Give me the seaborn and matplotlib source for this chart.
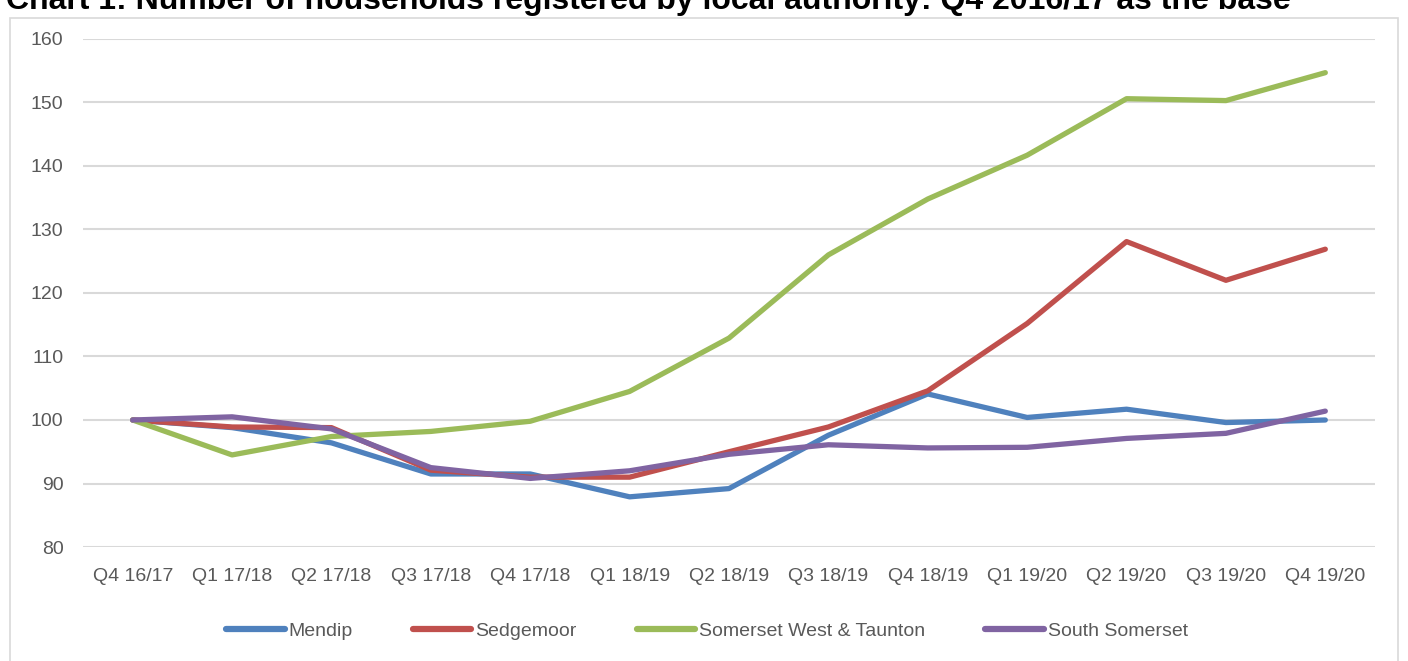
import matplotlib
matplotlib.use("Agg")
import matplotlib.pyplot as plt
import pandas as pd
import seaborn as sns
from matplotlib.patches import Rectangle

# Quarters on the category axis
quarters = [
    "Q4 16/17", "Q1 17/18", "Q2 17/18", "Q3 17/18", "Q4 17/18", "Q1 18/19",
    "Q2 18/19", "Q3 18/19", "Q4 18/19", "Q1 19/20", "Q2 19/20", "Q3 19/20",
    "Q4 19/20",
]

# Index values (Q4 2016/17 = 100)
mendip = [100, 98.8, 96.4, 91.5, 91.5, 87.9, 89.2, 97.6, 104.1, 100.4, 101.7, 99.6, 100.0]
sedgemoor = [100, 98.9, 98.8, 92.1, 91.0, 91.0, 95.0, 98.9, 104.6, 115.2, 128.1, 122.0, 126.9]
sw_taunton = [100, 94.5, 97.4, 98.2, 99.8, 104.5, 112.9, 126.0, 134.8, 141.7, 150.6, 150.3, 154.7]
south_somerset = [100, 100.5, 98.6, 92.5, 90.8, 92.0, 94.6, 96.1, 95.6, 95.7, 97.1, 97.9, 101.4]

series_names = ["Mendip", "Sedgemoor", "Somerset West & Taunton", "South Somerset"]
colors = ["#4F81BD", "#C0504D", "#9BBB59", "#8064A2"]

frames = []
for name, vals in zip(series_names, [mendip, sedgemoor, sw_taunton, south_somerset]):
    frames.append(pd.DataFrame({"quarter": quarters, "value": vals, "authority": name}))
df = pd.concat(frames, ignore_index=True)
df["pos"] = df["quarter"].map({q: i for i, q in enumerate(quarters)})

sns.set_theme(style="white")
plt.rcParams["font.family"] = ["Liberation Sans", "DejaVu Sans"]

W, H = 1408, 661
fig = plt.figure(figsize=(W / 100, H / 100), dpi=100)

# light chart frame
fig.patches.append(Rectangle((10 / W, -0.05), (1398 - 10) / W, 1 - 18 / H + 0.05,
                             transform=fig.transFigure, fill=False,
                             edgecolor="#D9D9D9", linewidth=1.2))

ax = fig.add_axes([83 / W, 1 - 547 / H, (1375 - 83) / W, (547 - 39) / H])

sns.lineplot(data=df, x="pos", y="value", hue="authority", hue_order=series_names,
             palette=colors, linewidth=3.8, ax=ax, legend=False,
             solid_capstyle="round", solid_joinstyle="round")

ax.set_xlim(-0.5, len(quarters) - 0.5)
ax.set_ylim(80, 160)
ax.set_yticks(range(80, 161, 10))
ax.set_xticks(range(len(quarters)))
ax.set_xticklabels(quarters)
ax.set_xlabel("")
ax.set_ylabel("")
ax.grid(axis="y", color="#D9D9D9", linewidth=1.5)
ax.set_axisbelow(True)
for s in ax.spines.values():
    s.set_visible(False)
ax.tick_params(axis="both", length=0, labelsize=14, colors="#595959")
ax.tick_params(axis="x", pad=15)
ax.tick_params(axis="y", pad=14)

# title, clipped at the top in the original
fig.text(648 / W, 1 - 9 / H, "Chart 1: Number of households registered by local authority: Q4 2016/17 as the base",
         ha="center", va="baseline", fontsize=23, fontweight="bold", color="black")

handles = [plt.Line2D([], [], color=c, linewidth=4.5) for c in colors]
fig.legend(handles, series_names, loc="center", bbox_to_anchor=(707 / W, 1 - 631 / H),
           ncol=4, frameon=False, fontsize=14, handlelength=3.0, handletextpad=0.2,
           columnspacing=3.1, labelcolor="#595959")

fig.savefig("out.png", dpi=100)
